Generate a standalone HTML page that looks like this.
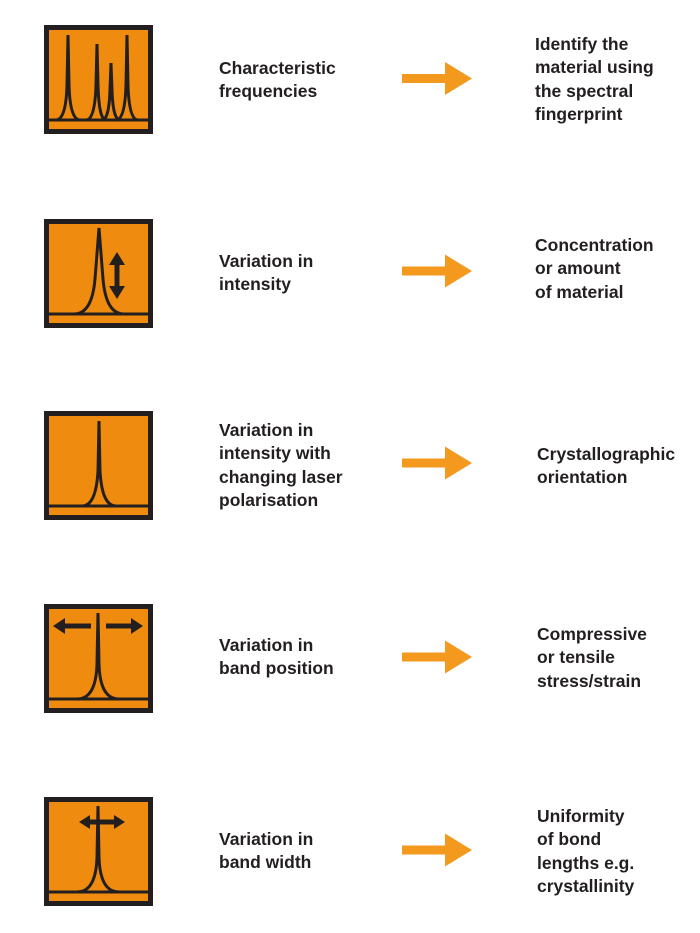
<!DOCTYPE html>
<html><head><meta charset="utf-8"><style>
body{margin:0;width:700px;height:933px;background:#fff;position:relative;font-family:"Liberation Sans",sans-serif;overflow:hidden}
.t{position:absolute;font-weight:bold;font-size:17.5px;line-height:23.3px;color:#231f20}
svg{position:absolute}
</style></head><body>
<svg width="700" height="933" viewBox="0 0 700 933" style="left:0;top:0">
<defs>
<g id="box"><rect x="2.5" y="2.5" width="104" height="104" fill="#ef8c0f" stroke="#231f20" stroke-width="5"/><line x1="5" y1="95" x2="104" y2="95" stroke="#231f20" stroke-width="3"/></g>
<path id="arr" d="M402 -4.5 H445 V-16.5 L472 0 L445 16.5 V4.5 H402 Z" fill="#f39a1e"/>
</defs>
<g fill="none" stroke="#231f20" stroke-width="3">
<g transform="translate(44,25)"><use href="#box"/>
<path d="M12 95 Q22 95 23 60 L24 10 L25 60 Q26 95 36 95"/>
<path d="M42 95 Q51 95 52 60 L53 19 L54 60 Q55 95 62 95"/>
<path d="M58 95 Q65 95 66 65 L67 38 L68 65 Q69 95 76 95"/>
<path d="M72 95 Q81 95 82 60 L83 10 L84 60 Q85 95 94 95"/>
</g>
<g transform="translate(44,219)"><use href="#box"/>
<path d="M30 95 Q48 95 51 60 L55 9 L59 60 Q62 95 80 95"/></g>
<g transform="translate(44,411)"><use href="#box"/>
<path d="M38 95 Q52 95 54 60 L55 10 L56 60 Q58 95 72 95"/></g>
<g transform="translate(44,604)"><use href="#box"/>
<path d="M33 95 Q52 95 53 60 L54 9 L55 60 Q56 95 75 95"/></g>
<g transform="translate(44,797)"><use href="#box"/>
<path d="M33 95 Q52 95 53 60 L54 9 L55 60 Q56 95 75 95"/></g>
</g>
<g fill="#231f20">
<path transform="translate(44,219)" d="M73 33 L81 46 L75.5 46 L75.5 67 L81 67 L73 80 L65 67 L70.5 67 L70.5 46 L65 46 Z"/>
<path transform="translate(44,604)" d="M9 22 L21 14 L21 19.5 L47 19.5 L47 24.5 L21 24.5 L21 30 Z"/>
<path transform="translate(44,604)" d="M99 22 L87 14 L87 19.5 L62 19.5 L62 24.5 L87 24.5 L87 30 Z"/>
<path transform="translate(44,797)" d="M35 25 L46 18 L46 22.5 L70 22.5 L70 27.5 L46 27.5 L46 32 Z M81 25 L70 18 L70 32 Z"/>
</g>
<use href="#arr" y="78.5"/><use href="#arr" y="271"/><use href="#arr" y="463"/><use href="#arr" y="657"/><use href="#arr" y="850"/>
</svg>
<div class="t" style="left:219px;top:57px">Characteristic<br>frequencies</div>
<div class="t" style="left:535px;top:33px">Identify the<br>material using<br>the spectral<br>fingerprint</div>
<div class="t" style="left:219px;top:250px">Variation in<br>intensity</div>
<div class="t" style="left:535px;top:234px">Concentration<br>or amount<br>of material</div>
<div class="t" style="left:219px;top:419px">Variation in<br>intensity with<br>changing laser<br>polarisation</div>
<div class="t" style="left:537px;top:443px">Crystallographic<br>orientation</div>
<div class="t" style="left:219px;top:634px">Variation in<br>band position</div>
<div class="t" style="left:537px;top:623px">Compressive<br>or tensile<br>stress/strain</div>
<div class="t" style="left:219px;top:828px">Variation in<br>band width</div>
<div class="t" style="left:537px;top:805px">Uniformity<br>of bond<br>lengths e.g.<br>crystallinity</div>
</body></html>
